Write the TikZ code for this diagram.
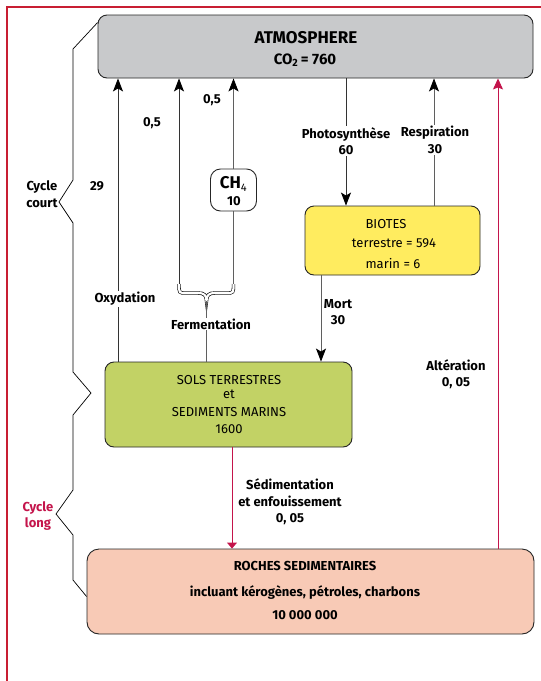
\documentclass[tikz,border=0pt]{standalone}
\usepackage{fontspec}
\setmainfont{Fira Sans}
\usetikzlibrary{arrows.meta}
\definecolor{framered}{RGB}{200,30,50}
\definecolor{redarr}{RGB}{196,20,75}
\definecolor{atmgray}{RGB}{200,201,203}
\definecolor{bioyel}{RGB}{255,236,95}
\definecolor{solgreen}{RGB}{194,210,101}
\definecolor{rocsal}{RGB}{248,202,182}
\definecolor{linegray}{RGB}{95,95,95}
\begin{document}
\begin{tikzpicture}[x=1pt,y=-1pt,
  box/.style={draw=black!85,line width=0.9pt,rounded corners=9pt,inner sep=0pt},
  arr/.style={draw=black!80,line width=0.8pt,-{Stealth[length=13pt,width=10pt,inset=3pt,color=black,fill=black]}},
  garr/.style={arr,draw=linegray},
  redar/.style={draw=redarr,line width=0.9pt,-{Stealth[length=11pt,width=10pt,inset=2pt]}},
  reddown/.style={draw=redarr,line width=0.9pt,-{Triangle[length=6pt,width=10pt]}},
  lab/.style={font=\bfseries\fontsize{13}{16.5}\selectfont,align=center,inner sep=1pt},
  wlab/.style={lab,fill=white},
  btxt/.style={font=\fontsize{13}{16}\selectfont,inner sep=0pt},
  bbtxt/.style={font=\bfseries\fontsize{13}{15}\selectfont,inner sep=0pt},
  ]
\useasboundingbox (0,0) rectangle (541,681);
\fill[white] (0,0) rectangle (541,681);
\draw[framered,line width=2pt] (7,681) -- (7,7) -- (541,7);

% boxes
\node[box,fill=atmgray,minimum width=435pt,minimum height=63pt] (atm) at (315.5,46.5) {};
\node[font=\bfseries\fontsize{17}{19}\selectfont,inner sep=0pt] (atmt1) at (306,38) {ATMOSPHERE};
\node[font=\bfseries\fontsize{15}{17}\selectfont,inner sep=0pt] (atmt2) at (305,60) {CO\textsubscript{2}\,= 760};

\node[box,fill=bioyel,minimum width=175pt,minimum height=69pt] (bio) at (392.5,240.5) {};
\node[btxt] (biot1) at (386,224) {BIOTES};
\node[btxt] (biot2) at (394,243) {terrestre = 594};
\node[btxt] (biot3) at (393,264) {marin = 6};

\node[box,fill=white,rounded corners=10pt,minimum width=46pt,minimum height=42pt] (ch4) at (233.5,190) {};
\node[font=\bfseries\fontsize{17}{18}\selectfont,inner sep=0pt] (ch4t1) at (233.5,184) {CH\textsubscript{\normalfont\fontsize{11}{12}\selectfont 4}};
\node[bbtxt] (ch4t2) at (234,201) {10};

\node[box,fill=solgreen,minimum width=247pt,minimum height=85pt] (sols) at (228.5,404.5) {};
\node[btxt] (solt1) at (229,380) {SOLS TERRESTRES};
\node[btxt] (solt2) at (229,394) {et};
\node[btxt] (solt3) at (229,412) {SEDIMENTS MARINS};
\node[btxt] (solt4) at (229,429) {1600};

\node[box,fill=rocsal,rounded corners=12pt,minimum width=447pt,minimum height=85pt] (roches) at (310.5,591.5) {};
\node[bbtxt] (roct1) at (305,566) {ROCHES SEDIMENTAIRES};
\node[bbtxt] (roct2) at (305,593) {incluant kérogènes, pétroles, charbons};
\node[bbtxt] (roct3) at (305,615) {10 000 000};

% x positions
\coordinate (c118) at (118,0);
\coordinate (c179) at (179,0);
\coordinate (c346) at (346,0);
\coordinate (c434) at (434,0);
\coordinate (c321) at (321,0);
\coordinate (c232) at (232,0);
\coordinate (c498) at (498,0);
\coordinate (braceL) at (179,284);
\coordinate (braceR) at (233.5,284);
\coordinate (braceM) at (206.5,301);

% oxydation
\draw[arr] (sols.north -| c118) -- (atm.south -| c118);
\node[wlab] (oxy) at (125,299) {Oxydation};
\node[lab] (n29) at (97,186) {29};

% fermentation / methane
\draw[arr] (braceL) -- (atm.south -| c179);
\draw[garr] (ch4.north) -- (atm.south -| ch4.north);
\draw[draw=linegray,line width=0.8pt] (ch4.south) -- (braceR);
\draw[line width=0.6pt,double=white,double distance=2.2pt]
  (braceL) .. controls (179,293) and (179,293) .. (186,293) -- (198,293)
  .. controls (204,293) and (206.5,295) .. (braceM)
  .. controls (206.5,295) and (209,293) .. (215,293) -- (226.5,293)
  .. controls (233.5,293) and (233.5,293) .. (braceR);
\draw[draw=linegray,line width=0.8pt] (braceM) -- (sols.north -| braceM);
\node[wlab] (ferm) at (211,324) {Fermentation};
\node[lab] (n05a) at (152,123) {0,5};
\node[lab] (n05b) at (212,100) {0,5};

% photosynthese, respiration, mort
\draw[arr] (atm.south -| c346) -- (bio.north -| c346);
\node[wlab] (photo) at (346,141) {Photosynthèse\\60};
\draw[garr] (bio.north -| c434) -- (atm.south -| c434);
\node[wlab] (resp) at (435,140) {Respiration\\30};
\draw[garr] (bio.south -| c321) -- (sols.north -| c321);
\node[lab] (mort) at (338,312) {Mort\\30};

% long cycle
\draw[reddown] (sols.south -| c232) -- (roches.north -| c232);
\node[lab] (sed) at (290,502) {Sédimentation\\et enfouissement\\0, 05};
\draw[redar] (roches.north -| c498) -- (atm.south -| c498);
\node[lab] (alt) at (456,374) {Altération\\0, 05};

% cycle brackets
\draw[line width=0.7pt] ([yshift=-8pt]atm.north west) -- (73,49) -- (73,180) -- (59,202) -- (73,223)
  -- (73,372) -- (91,393) -- (73,415) -- (73,490) -- (56,514) -- (73,535) -- (73,580)
  -- ([yshift=-5pt]roches.west);
\node[lab] (court) at (42,194) {Cycle\\court};
\node[lab,text=redarr] (long) at (38,516) {Cycle\\long};
\end{tikzpicture}
\end{document}
